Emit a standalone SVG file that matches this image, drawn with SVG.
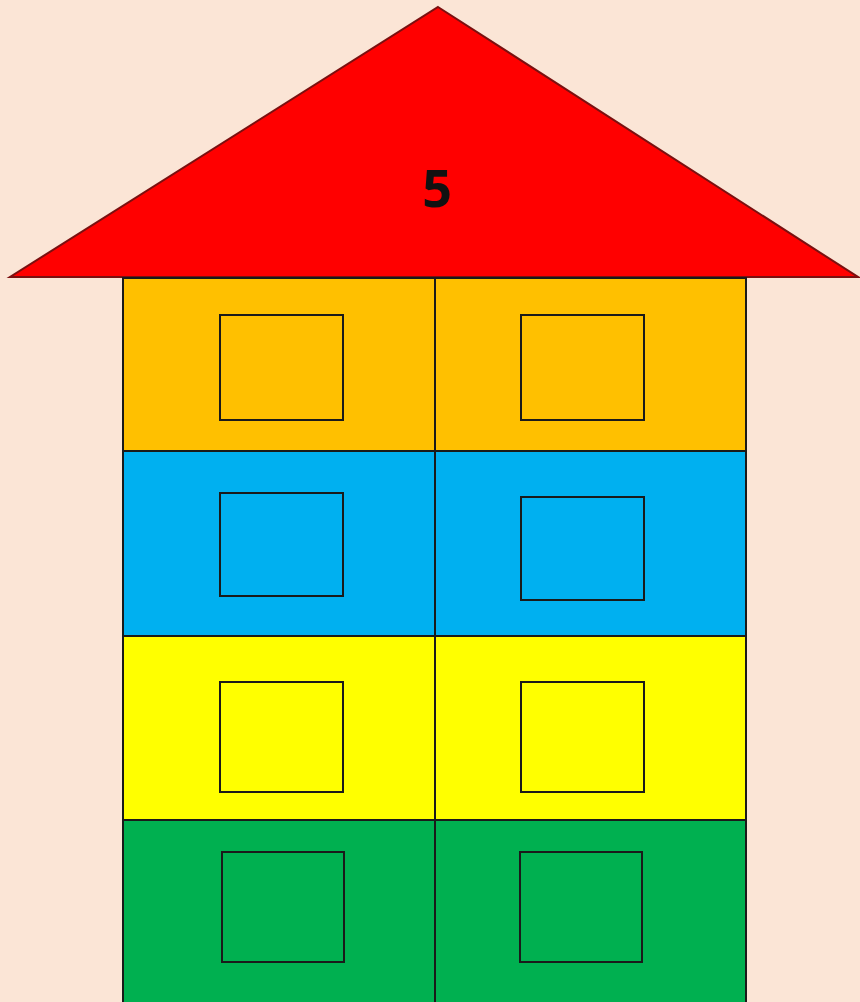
<svg xmlns="http://www.w3.org/2000/svg" width="860" height="1002" viewBox="0 0 860 1002">
<style>
.ln{stroke:#1a1a1a;stroke-width:2}
.win{fill:none;stroke:#1a1a1a;stroke-width:2}
.lbl{font-family:"Open Sans","Liberation Sans",sans-serif;font-weight:bold;font-size:52px;fill:#111}
</style>
<rect width="860" height="1002" fill="#FBE5D6"/>
<g id="roof">
<polygon points="438,7 858,277 10,277" fill="#FF0000" stroke="#7a1010" stroke-width="2"/>
<text class="lbl" x="437" y="207" text-anchor="middle">5</text>
</g>
<g id="floor4">
<rect x="123" y="278" width="623" height="173" fill="#FFC000" class="ln"/>
<rect class="win" x="220" y="315" width="123" height="105"/>
<rect class="win" x="521" y="315" width="123" height="105"/>
</g>
<g id="floor3">
<rect x="123" y="451" width="623" height="185" fill="#00B0F0" class="ln"/>
<rect class="win" x="220" y="493" width="123" height="103"/>
<rect class="win" x="521" y="497" width="123" height="103"/>
</g>
<g id="floor2">
<rect x="123" y="636" width="623" height="184" fill="#FFFF00" class="ln"/>
<rect class="win" x="220" y="682" width="123" height="110"/>
<rect class="win" x="521" y="682" width="123" height="110"/>
</g>
<g id="floor1">
<rect x="123" y="820" width="623" height="184" fill="#00B050" class="ln"/>
<rect class="win" x="222" y="852" width="122" height="110"/>
<rect class="win" x="520" y="852" width="122" height="110"/>
</g>
<g id="connectors">
<line class="ln" x1="435" y1="278" x2="435" y2="1002"/>
</g>
</svg>
